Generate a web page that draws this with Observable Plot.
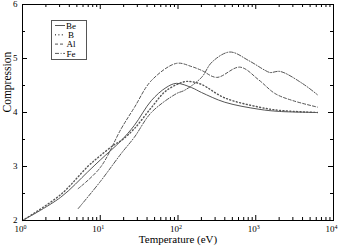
<!DOCTYPE html>
<html><head><meta charset="utf-8">
<script src="https://cdn.jsdelivr.net/npm/d3@7"></script>
<script src="https://cdn.jsdelivr.net/npm/@observablehq/plot@0.6"></script>
<style>body{margin:0;background:#fff} svg, svg text{font-family:"Liberation Serif","Times New Roman",serif !important;}</style>
</head><body><div id="chart"></div>
<script>
const seriesNames = ["Be", "B", "Al", "Fe"];
const beT = [1, 3.1, 6.9, 10, 18.6, 27.4, 45.4, 70, 95.6, 150, 201, 400, 1100, 2000, 6200];
const beV = [2.00, 2.43, 2.90, 3.12, 3.48, 3.76, 4.22, 4.46, 4.54, 4.46, 4.37, 4.19, 4.06, 4.02, 4.00];
const bT = [1, 3.1, 6.9, 10, 15, 18.6, 27.4, 45.4, 70, 121, 150, 201, 400, 1100, 2000, 6200];
const bV = [2.00, 2.48, 3.00, 3.20, 3.40, 3.48, 3.70, 4.09, 4.40, 4.57, 4.57, 4.52, 4.27, 4.10, 4.04, 4.00];
const alT = [5.2, 10, 18.6, 27.4, 45.4, 95.6, 150, 201, 315, 626, 1100, 1775, 3000, 6200];
const alV = [2.59, 2.98, 3.70, 4.09, 4.59, 4.91, 4.85, 4.78, 4.65, 4.84, 4.60, 4.35, 4.22, 4.10];
const feT = [5.2, 10, 18.6, 27.4, 45.4, 95.6, 121, 201, 272, 464, 815, 1320, 1530, 2060, 3960, 6200];
const feV = [2.22, 2.72, 3.24, 3.54, 4.00, 4.35, 4.41, 4.65, 4.93, 5.12, 4.96, 4.78, 4.74, 4.76, 4.54, 4.33];
const xMajor = [1, 10, 100, 1000, 10000];
const xMinor = [2,3,4,5,6,7,8,9,20,30,40,50,60,70,80,90,200,300,400,500,600,700,800,900,2000,3000,4000,5000,6000,7000,8000,9000];
const yMajor = [2, 3, 4, 5, 6];
const yMinor = [2.5, 3.5, 4.5, 5.5];

const styles = {
  Be: {dash: null, w: 1},
  B: {dash: "1,2.4", w: 1.4},
  Al: {dash: "3,2", w: 1},
  Fe: {dash: "4,1.6,1,1.6", w: 1}
};
const data = [];
[[beT,beV,"Be"],[bT,bV,"B"],[alT,alV,"Al"],[feT,feV,"Fe"]].forEach(([t,v,n]) => t.forEach((x,i)=>data.push({T:x, C:v[i], s:n})));

const W = 338, H = 248, mL = 22, mR = 5, mT = 4, mB = 28;
const fh = H - mT - mB;
const lineMarks = seriesNames.map(n => Plot.line(data.filter(d=>d.s===n), {x:"T", y:"C", curve:"catmull-rom", stroke:"#555", strokeWidth: styles[n].w, strokeDasharray: styles[n].dash}));

const plot = Plot.plot({
  width: W, height: H,
  marginLeft: mL, marginRight: mR, marginTop: mT, marginBottom: mB,
  style: {background: "#fff", color: "#000"},
  x: {type: "log", domain: [1, 10000]},
  y: {domain: [2, 6]},
  marks: [
    ...lineMarks,
    Plot.tickX(xMajor, {x: d=>d, insetTop: fh-5, stroke:"#000"}),
    Plot.tickX(xMajor, {x: d=>d, insetBottom: fh-5, stroke:"#000"}),
    Plot.tickX(xMinor, {x: d=>d, insetTop: fh-3, stroke:"#000"}),
    Plot.tickX(xMinor, {x: d=>d, insetBottom: fh-3, stroke:"#000"}),
    Plot.tickY(yMajor, {y: d=>d, insetRight: (W-mL-mR)-5, stroke:"#000"}),
    Plot.tickY(yMajor, {y: d=>d, insetLeft: (W-mL-mR)-5, stroke:"#000"}),
    Plot.tickY(yMinor, {y: d=>d, insetRight: (W-mL-mR)-3, stroke:"#000"}),
    Plot.tickY(yMinor, {y: d=>d, insetLeft: (W-mL-mR)-3, stroke:"#000"}),
    Plot.axisX({ticks: xMajor, tickSize: 0, tickPadding: 5, fontSize: 9, dx: -2, tickFormat: d => "10^" + Math.round(Math.log10(d)), label: null}),
    Plot.axisY({ticks: yMajor, tickSize: 0, tickPadding: 5, fontSize: 9, tickFormat: d => String(d), label: null}),
    Plot.frame({stroke: "#000"}),
    Plot.text(["Temperature (eV)"], {frameAnchor: "bottom", dy: 22.5, fontSize: 11, fill: "#000"}),
    Plot.text(["Compression"], {frameAnchor: "left", dx: -15, rotate: -90, fontSize: 11.5, fill: "#000"})
  ]
});

// superscript exponents on x tick labels
d3.select(plot).selectAll("text").each(function() {
  const t = this.textContent;
  const m = /^10\^(\d)$/.exec(t);
  if (!m) return;
  const el = d3.select(this);
  el.text("");
  el.append("tspan").text("10");
  el.append("tspan").attr("font-size", 6).attr("dy", "-0.45em").text(m[1]);
});

// legend
const svg = d3.select(plot);
const g = svg.append("g").attr("font-size", 9);
g.append("rect").attr("x", 51.5).attr("y", 20.5).attr("width", 35).attr("height", 39).attr("fill", "#fff").attr("stroke", "#555");
seriesNames.forEach((n, i) => {
  const y = 25.5 + i * 9.3;
  g.append("line").attr("x1", 55).attr("x2", 65).attr("y1", y).attr("y2", y).attr("stroke", "#555").attr("stroke-width", styles[n].w).attr("stroke-dasharray", styles[n].dash);
  g.append("text").attr("x", 71).attr("y", y).attr("dy", "0.35em").attr("fill", "#000").text(n);
});
document.getElementById("chart").appendChild(plot);
</script>
</body></html>
